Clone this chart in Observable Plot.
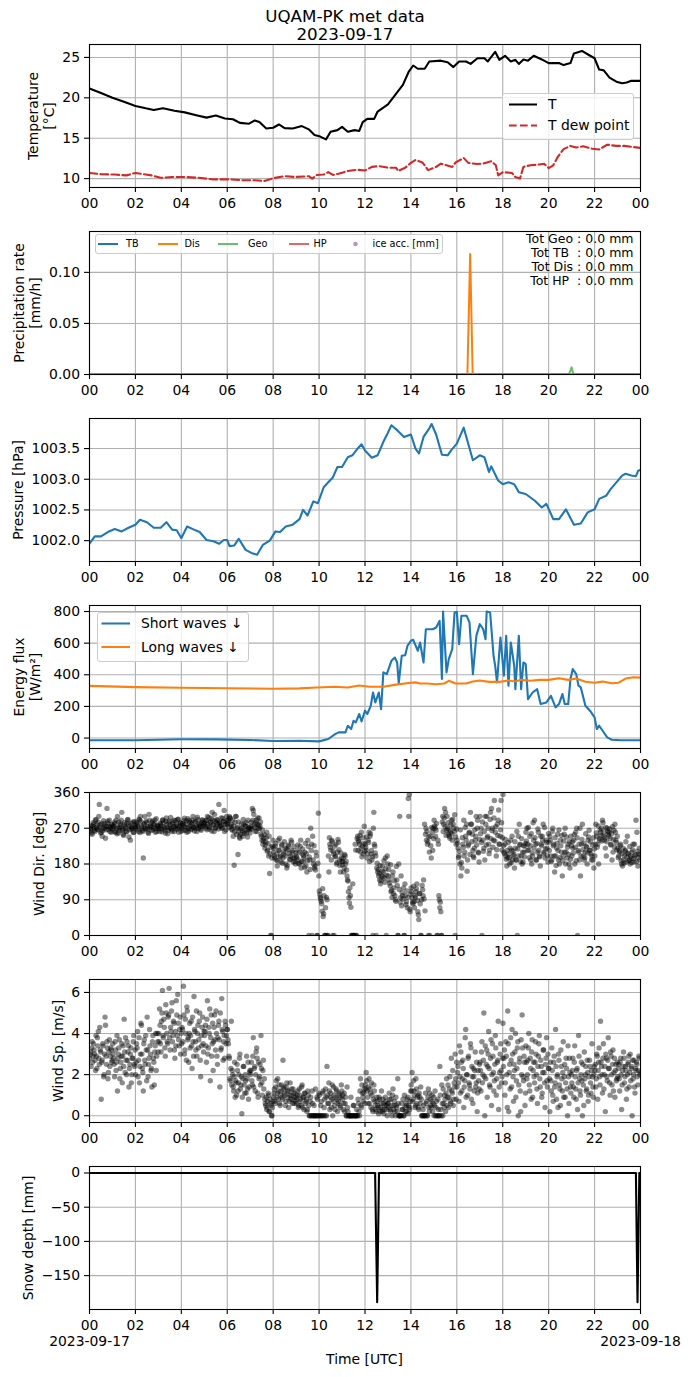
<!DOCTYPE html>
<html><head><meta charset="utf-8">
<script src="https://cdn.jsdelivr.net/npm/d3@7"></script>
<script src="https://cdn.jsdelivr.net/npm/@observablehq/plot@0.6"></script>
<style>
body{margin:0;background:#fff;font-family:"DejaVu Sans",sans-serif;}
#root{position:relative;width:690px;height:1377px;overflow:hidden;background:#fff;}
.abs{position:absolute;white-space:pre;color:#000;}
.legend{position:absolute;background:rgba(255,255,255,0.8);border:1px solid #cccccc;border-radius:3px;box-sizing:border-box;overflow:hidden;}
</style></head><body><div id="root"></div>
<script>
// ---------------- DATA ----------------
const xTickHours = [0,2,4,6,8,10,12,14,16,18,20,22,24];

// Temperature [°C]
const tHours = [0,0.5,1,1.5,2,2.45,2.8,3.2,3.7,4.15,4.65,5.1,5.5,5.9,6.25,6.55,6.95,7.2,7.4,7.7,8.0,8.25,8.5,8.85,9.25,9.55,9.8,10.05,10.3,10.5,10.8,11.0,11.25,11.55,11.75,11.9,12.1,12.4,12.55,12.8,13.0,13.35,13.65,13.9,14.1,14.3,14.6,14.8,15.3,15.6,15.85,16.1,16.4,16.6,16.9,17.2,17.35,17.67,17.85,18.1,18.35,18.55,18.7,18.9,19.1,19.35,19.7,20.0,20.45,20.65,20.95,21.1,21.45,21.75,22.0,22.2,22.4,22.65,22.95,23.2,23.4,23.6,24];
const tVals = [21.15,20.6,20.0,19.5,19.0,18.7,18.5,18.7,18.4,18.2,17.85,17.55,17.8,17.45,17.35,16.9,16.8,17.2,17.0,16.2,16.3,16.7,16.25,16.2,16.5,16.1,15.4,15.2,14.85,15.8,16.0,16.4,15.8,16.0,15.9,17.0,17.4,17.4,18.3,18.8,19.2,20.5,21.6,23.2,24.0,23.6,23.6,24.5,24.6,24.4,23.8,24.5,24.5,24.2,24.9,24.9,24.5,25.7,24.7,25.2,24.5,24.7,24.2,24.75,24.6,25.2,24.75,24.3,24.3,24.05,24.3,25.5,25.8,25.3,24.9,23.5,23.4,22.5,22.0,21.8,21.9,22.1,22.1];
const tdHours = [0,0.5,1.1,1.6,2.0,2.45,2.7,3.1,3.6,4.15,4.75,5.4,6.1,6.65,7.2,7.6,8.0,8.5,8.95,9.55,9.7,9.9,10.2,10.4,10.6,10.85,11.25,11.65,12.0,12.3,12.6,13.0,13.35,13.45,13.75,14.0,14.2,14.5,14.75,15.1,15.3,15.55,15.8,15.95,16.3,16.5,16.9,17.2,17.5,17.7,17.8,18.0,18.4,18.55,18.75,18.9,19.2,19.6,19.8,20.0,20.2,20.4,20.65,20.95,21.2,21.5,21.9,22.2,22.55,22.95,23.3,23.7,24];
const tdVals = [10.7,10.55,10.5,10.4,10.7,10.5,10.4,10.1,10.2,10.2,10.1,9.9,9.9,9.8,9.8,9.7,10.05,10.3,10.2,10.3,10.0,10.45,10.5,10.8,10.45,10.6,10.95,11.1,11.0,11.45,11.55,11.35,11.35,10.95,11.35,11.95,12.3,12.0,11.05,11.45,11.85,11.65,11.45,12.0,12.55,11.95,11.8,11.9,12.15,11.65,10.4,10.8,10.7,10.2,10.0,11.45,11.65,11.75,11.85,11.3,11.65,12.7,13.65,14.05,13.85,14.0,13.7,13.6,14.2,14.05,14.05,13.9,13.8];

// Precipitation rate [mm/h]
const tbHours = [0,24], tbVals = [0,0];
const hpHours = [0,24], hpVals = [0,0];
const geoHours = [0,20.88,21.0,21.08,24], geoVals = [0,0,0.007,0,0];
const disHours = [0,16.46,16.58,16.69,24], disVals = [0,0,0.118,0,0];
const precipTotals = ["Tot Geo : 0.0 mm","Tot TB  : 0.0 mm","Tot Dis : 0.0 mm","Tot HP  : 0.0 mm"];

// Pressure [hPa]
const pHours = [0,0.23,0.5,0.8,1.1,1.4,1.7,2.0,2.2,2.5,2.8,3.1,3.35,3.6,3.8,4.0,4.25,4.55,4.8,5.1,5.4,5.65,5.85,6.0,6.1,6.3,6.5,6.8,7.05,7.3,7.55,7.85,8.1,8.3,8.55,8.85,9.15,9.3,9.5,9.75,9.95,10.2,10.4,10.6,10.8,11.0,11.25,11.45,11.7,11.85,12.0,12.3,12.55,12.8,12.95,13.15,13.4,13.7,14.0,14.2,14.35,14.55,14.8,14.9,15.1,15.35,15.6,15.75,16.0,16.3,16.7,17.0,17.2,17.4,17.5,17.8,18.0,18.25,18.5,18.7,19.0,19.4,19.7,19.9,20.2,20.45,20.75,21.1,21.4,21.7,22.0,22.2,22.5,22.7,22.95,23.2,23.35,23.6,23.8,23.9,24];
const pVals = [1001.95,1002.07,1002.07,1002.14,1002.19,1002.15,1002.21,1002.26,1002.34,1002.30,1002.21,1002.21,1002.30,1002.18,1002.17,1002.04,1002.23,1002.18,1002.14,1002.01,1001.99,1001.95,1002.01,1002.01,1001.91,1001.92,1002.03,1001.85,1001.80,1001.77,1001.93,1002.0,1002.15,1002.14,1002.23,1002.26,1002.35,1002.5,1002.41,1002.64,1002.61,1002.87,1002.95,1003.03,1003.2,1003.2,1003.36,1003.39,1003.51,1003.57,1003.47,1003.35,1003.39,1003.61,1003.72,1003.88,1003.8,1003.69,1003.73,1003.5,1003.42,1003.69,1003.83,1003.9,1003.73,1003.4,1003.39,1003.47,1003.58,1003.84,1003.31,1003.39,1003.36,1003.12,1003.21,1002.98,1002.92,1002.95,1002.92,1002.79,1002.76,1002.65,1002.54,1002.6,1002.35,1002.35,1002.51,1002.26,1002.28,1002.46,1002.51,1002.68,1002.73,1002.84,1002.95,1003.06,1003.09,1003.06,1003.05,1003.14,1003.15];

// Energy flux [W/m2]
const lwHours = [0,2,4,6,8,9.15,9.9,10.7,11.25,11.75,12.2,12.8,13.35,13.9,14.2,14.4,14.7,15.1,15.45,15.65,15.95,16.4,16.7,17.0,17.4,17.85,18.25,18.55,18.8,19.2,19.6,20.0,20.45,20.85,21.2,21.6,22.0,22.35,22.75,23.05,23.35,23.7,24];
const lwVals = [330,322,318,315,312,314,320,324,320,332,324,324,338,348,352,345,345,340,345,362,345,345,358,364,355,355,364,358,368,362,368,368,378,368,376,356,350,357,346,350,376,384,382];
const swHours = [0,2,4,5.5,7,8,9.15,10.0,10.4,10.7,10.85,11.15,11.25,11.4,11.5,11.6,11.75,11.85,12.0,12.1,12.25,12.35,12.45,12.6,12.7,12.8,12.95,13.15,13.3,13.4,13.47,13.6,13.75,13.85,14.0,14.1,14.3,14.4,14.55,14.65,14.95,15.1,15.25,15.35,15.4,15.55,15.65,15.8,15.9,16.0,16.1,16.2,16.43,16.55,16.7,16.85,17.0,17.15,17.25,17.3,17.45,17.6,17.67,17.75,17.9,18.05,18.15,18.25,18.35,18.5,18.55,18.7,18.8,18.9,19.0,19.1,19.3,19.5,19.65,19.9,20.1,20.3,20.45,20.6,20.7,20.85,20.95,21.05,21.2,21.3,21.4,21.6,21.8,22.0,22.1,22.2,22.35,22.55,22.75,23.15,24];
const swVals = [-14,-14,-8,-8,-12,-19,-17,-21,-6,25,36,36,78,57,109,99,152,105,173,152,204,288,225,288,183,415,404,488,509,478,347,520,524,583,615,621,552,604,478,688,688,699,741,373,800,415,499,562,794,798,594,773,773,731,404,646,720,688,625,800,794,520,457,352,636,394,646,331,604,457,309,646,309,478,467,246,288,309,215,225,267,194,215,278,215,215,373,436,404,331,320,204,173,131,57,78,46,4,-11,-14,-14];

// Wind direction [deg]: two interleaved sample sets, 24 values each per hour (hour 0 .. 23)
const windDirA = [
 [262,270,258,275,280,265,290,272,268,285,330,278,260,250,270,282,276,266,320,288,274,262,270,280],
 [268,275,285,260,270,300,258,272,280,290,265,255,278,270,262,283,292,248,275,268,270,285,260,272],
 [270,285,278,262,290,300,275,265,195,282,270,288,268,260,305,276,272,284,266,279,291,270,262,275],
 [275,262,280,268,290,284,270,258,296,272,265,288,278,270,262,285,290,274,268,280,292,260,275,283],
 [270,282,278,295,265,288,272,262,290,276,284,268,300,274,286,270,262,292,280,276,268,284,290,275],
 [282,270,290,300,275,268,285,295,310,278,262,288,272,292,280,330,284,276,270,295,288,262,280,300],
 [280,290,300,295,275,265,250,177,285,300,270,204,260,245,255,270,250,280,262,275,258,248,270,266],
 [270,285,320,315,278,262,290,280,270,296,275,255,240,230,245,220,235,260,215,200,156,0,0,225],
 [210,200,225,190,175,240,215,200,185,230,195,205,220,180,170,215,225,190,200,235,210,185,195,180],
 [200,215,190,180,225,170,205,185,195,210,175,160,240,0,190,270,230,250,180,170,165,200,0,308],
 [112,96,86,61,48,100,0,0,90,0,160,230,215,240,0,205,225,200,180,210,235,190,160,195],
 [178,195,170,200,187,150,137,95,120,71,0,130,0,0,215,0,250,240,230,210,260,225,205,275],
 [230,215,195,240,260,250,205,190,0,310,225,200,170,160,150,140,130,150,175,160,145,195,0,200],
 [150,140,125,110,96,160,120,100,86,140,0,180,300,95,75,100,120,0,100,85,70,345,355,60],
 [120,95,80,85,100,110,130,60,40,105,0,90,115,140,280,255,240,230,0,210,250,195,260,270],
 [290,270,265,0,240,100,70,60,0,300,280,320,310,265,270,255,250,260,290,240,280,262,0,230],
 [240,220,200,180,150,170,230,290,210,250,280,190,230,260,310,280,255,200,220,240,300,270,210,185],
 [300,270,0,240,220,190,280,300,250,230,215,310,320,270,240,340,260,200,280,290,230,250,340,215],
 [355,210,230,200,175,195,205,180,240,215,190,200,170,220,190,0,250,280,230,200,180,185,210,225],
 [260,270,230,215,250,190,180,200,240,290,230,190,210,260,200,175,230,250,280,210,195,240,220,185],
 [235,250,200,190,270,230,160,200,220,255,190,180,240,210,150,200,255,270,210,195,230,180,170,250],
 [200,220,240,180,260,270,0,210,190,150,230,280,200,190,210,225,180,240,265,215,205,200,190,170],
 [200,280,250,230,180,240,260,270,290,250,240,220,200,270,255,260,245,230,190,210,265,280,240,215],
 [220,200,210,230,180,175,190,200,215,185,250,205,190,180,195,210,230,185,200,290,260,175,205,190]
];
const windDirB = [
 [268,276,255,284,270,262,292,279,266,300,272,258,281,264,289,270,245,275,283,267,290,273,260,278],
 [274,262,281,290,256,270,286,265,277,310,268,252,284,273,261,291,278,266,240,282,271,259,287,276],
 [281,266,274,293,259,287,270,262,279,300,268,284,273,257,290,276,265,288,271,282,260,294,277,269],
 [269,283,276,261,291,273,265,288,279,256,284,270,297,266,281,274,262,289,276,268,293,271,284,262],
 [277,265,289,273,281,260,294,270,285,266,279,290,272,263,288,276,298,269,281,274,265,291,278,284],
 [276,289,266,281,297,272,285,263,291,278,305,270,284,290,268,282,276,296,271,287,315,279,266,290],
 [285,272,296,280,268,290,276,262,300,255,272,286,248,268,281,264,292,257,276,284,266,290,272,258],
 [276,268,290,305,272,284,262,296,278,270,286,250,266,238,254,228,246,212,232,250,205,222,195,240],
 [220,195,232,205,188,214,245,198,226,182,210,236,200,218,176,228,206,192,240,214,196,224,186,208],
 [196,228,182,210,240,186,218,200,172,232,206,188,224,198,166,214,0,190,226,175,210,0,182,150],
 [104,92,80,118,55,0,70,96,0,200,246,222,190,236,212,0,198,230,184,242,216,176,208,186],
 [186,160,204,180,165,140,110,82,100,0,0,0,0,230,0,244,214,236,252,220,198,246,232,212],
 [222,248,206,234,186,256,214,198,270,230,208,0,182,166,156,176,138,162,148,188,134,168,152,180],
 [166,132,178,114,150,106,138,90,174,126,0,116,84,150,108,92,0,130,78,112,96,300,66,104],
 [110,84,124,70,96,118,88,52,106,80,0,126,100,92,62,270,262,236,248,0,226,272,214,244],
 [276,250,282,0,230,90,84,0,286,262,296,274,252,300,284,266,245,278,256,292,270,304,248,268],
 [232,196,212,266,184,246,222,200,272,240,162,226,258,204,280,236,214,196,266,250,228,290,208,242],
 [256,234,286,212,262,300,228,246,270,206,292,244,264,222,296,238,274,216,252,316,230,266,284,246],
 [226,206,242,192,214,234,196,220,184,250,212,204,236,190,262,218,200,228,186,244,210,226,198,232],
 [238,214,272,196,226,256,208,284,220,246,190,232,268,214,198,250,226,240,206,272,218,234,200,256],
 [214,240,186,262,226,200,246,176,232,214,266,196,226,252,188,238,210,180,248,222,204,236,192,226],
 [236,208,254,222,188,246,214,230,270,200,242,216,232,196,256,222,208,248,214,236,190,228,246,218],
 [230,258,222,276,244,266,252,238,284,260,246,272,236,262,250,268,228,256,274,242,222,260,234,250],
 [196,214,226,188,206,220,182,212,236,198,208,188,224,200,184,216,194,230,204,186,212,196,220,204]
];

// Wind speed [m/s]: two interleaved sample sets, 24 values each per hour
const windSpA = [
 [2.8,3.1,3.3,2.6,3.5,3.0,2.2,2.9,3.8,4.1,2.5,3.2,0.8,2.7,3.4,2.0,4.8,2.9,3.6,1.8,3.1,2.4,3.3,2.6],
 [3.5,2.8,1.9,3.2,2.6,1.2,3.0,3.7,2.3,2.9,1.6,3.4,4.7,2.1,2.7,3.6,3.1,1.4,2.5,3.3,2.0,2.8,3.9,2.4],
 [2.0,3.5,4.1,2.7,1.6,3.0,4.4,2.3,1.2,3.7,2.5,3.2,4.8,1.9,2.8,3.4,2.2,1.4,3.9,2.6,3.1,4.0,2.9,3.6],
 [4.0,5.2,3.5,4.6,6.1,3.8,4.3,2.9,5.0,3.6,4.8,6.2,3.2,4.1,5.5,3.9,4.5,2.8,3.4,4.9,5.9,3.7,4.2,3.0],
 [3.5,4.2,6.3,3.0,4.7,2.7,5.1,3.8,4.0,3.3,4.6,2.3,3.6,5.8,4.1,3.2,2.9,4.4,3.7,5.0,1.9,3.4,4.8,3.1],
 [3.9,4.4,2.6,5.6,3.3,4.0,1.7,4.9,3.5,2.2,4.3,3.7,5.1,2.9,3.8,4.6,1.4,3.2,5.7,4.1,3.6,2.8,4.4,3.9],
 [4.2,3.5,2.8,1.7,4.6,2.2,1.4,1.9,0.9,1.6,2.5,1.2,2.0,3.0,1.5,0.1,1.8,2.4,1.1,1.7,2.9,1.3,0.8,2.1],
 [2.0,2.6,1.5,3.8,2.3,1.2,3.1,2.8,0.9,1.8,2.5,3.9,1.6,2.2,1.3,0.8,0.5,0.3,0.7,1.0,0.2,0.6,0.0,0.4],
 [0.9,1.3,0.6,1.7,1.1,0.8,1.5,0.5,1.2,0.9,2.7,1.4,1.0,0.7,1.6,1.2,0.4,1.0,0.8,1.3,0.6,1.1,0.9,0.7],
 [0.6,1.0,0.4,1.3,0.8,0.5,1.5,0.9,0.3,1.1,0.7,0.2,1.2,0.5,0.0,0.9,0.0,0.6,0.0,0.0,1.3,0.0,0.8,0.0],
 [1.0,0.0,0.7,0.0,1.2,0.4,0.0,0.9,2.4,0.6,1.6,0.3,1.1,0.8,0.0,1.4,0.5,0.9,1.2,0.2,0.7,1.0,0.4,1.5],
 [0.8,0.3,1.1,0.6,0.0,1.4,0.2,0.0,0.0,0.9,0.0,0.0,0.5,0.0,0.0,0.3,0.0,0.6,0.0,1.8,0.4,1.1,0.7,1.3],
 [1.5,2.1,1.2,0.6,1.8,1.3,0.4,1.0,0.2,1.5,0.7,0.3,0.9,0.5,0.1,0.8,0.4,1.2,0.2,0.6,0.3,0.9,0.5,0.0],
 [0.6,1.1,0.3,0.8,0.0,1.3,0.5,0.2,0.9,0.4,1.8,0.0,0.0,0.0,0.6,0.3,0.0,1.0,0.2,0.5,0.8,0.1,0.4,0.7],
 [1.5,2.1,0.8,1.2,0.4,1.8,0.6,1.0,0.3,0.9,1.4,0.0,0.0,0.5,0.0,1.1,0.7,0.0,1.3,0.2,0.8,0.4,1.0,0.6],
 [0.0,1.2,0.4,0.0,0.8,0.0,2.4,0.3,1.5,0.0,0.6,1.0,0.2,1.8,0.9,0.4,1.3,0.7,2.8,1.1,0.5,1.6,3.0,0.8],
 [1.4,2.4,0.7,1.9,3.1,1.2,2.7,0.4,1.7,4.2,2.0,1.0,2.9,1.5,3.5,0.8,1.9,2.3,1.2,3.1,1.6,0.2,2.2,1.3],
 [2.6,1.2,3.6,2.0,5.0,0.0,1.8,3.2,2.4,4.1,1.5,2.8,0.5,3.5,2.1,1.7,3.9,1.0,2.6,4.6,1.4,3.0,2.2,1.9],
 [4.5,2.8,1.0,3.6,2.0,5.1,0.2,2.5,3.8,1.4,3.0,0.7,2.2,4.0,1.7,3.3,0.0,2.6,1.2,3.7,4.9,1.9,2.9,0.5],
 [3.4,1.8,2.7,4.0,1.2,2.3,3.1,0.9,2.6,1.6,3.6,2.0,0.6,2.9,3.9,1.4,2.4,1.1,3.2,2.1,0.4,2.8,1.7,3.0],
 [2.3,0.2,1.7,3.3,1.0,2.6,1.4,4.2,0.8,2.0,3.0,1.5,0.5,2.4,1.2,3.6,1.9,0.9,2.8,1.3,3.4,0.6,2.1,1.1],
 [1.6,2.8,0.9,3.4,1.3,2.2,0.3,3.9,1.8,1.0,2.6,0.0,1.5,3.1,2.0,1.2,2.7,0.7,1.9,2.4,1.1,3.5,1.4,2.0],
 [2.2,1.4,3.0,0.8,2.6,1.9,4.6,2.4,1.1,3.5,2.0,0.2,2.8,1.7,3.8,2.3,1.0,2.9,1.5,3.2,2.1,0.9,2.5,1.8],
 [1.9,2.5,1.2,2.8,0.3,2.2,3.1,1.6,2.4,0.8,2.0,2.6,1.4,3.0,2.3,0.0,1.8,2.7,1.1,2.2,2.5,1.5,2.9,2.0]
];
const windSpB = [
 [3.0,2.4,3.6,2.9,3.2,2.7,3.9,2.3,3.4,2.8,4.3,3.1,2.6,3.5,1.9,3.0,4.4,2.5,3.3,2.1,3.7,2.9,3.2,2.7],
 [3.0,2.5,3.6,2.2,3.9,2.8,3.3,1.8,2.6,3.5,2.9,2.4,3.1,3.8,2.0,2.7,3.4,2.3,3.0,1.6,2.8,3.6,2.5,3.2],
 [2.6,3.3,1.9,3.8,2.4,4.5,3.0,2.1,3.5,2.7,3.9,1.7,3.2,2.5,4.2,3.0,2.3,3.6,2.8,1.5,3.4,2.2,4.0,3.1],
 [3.6,4.4,3.1,5.0,3.9,4.7,3.3,5.4,4.0,3.5,4.9,3.8,4.3,5.1,3.6,4.6,3.2,4.1,5.6,3.9,4.5,3.4,4.8,4.0],
 [4.3,3.6,4.9,3.2,4.0,5.3,3.7,2.6,4.5,3.9,3.4,4.8,2.9,4.2,3.6,5.1,4.0,3.3,4.6,2.7,3.9,4.3,3.5,4.1],
 [4.1,3.4,4.7,3.0,4.3,5.2,3.8,2.9,4.5,3.6,4.9,3.2,4.0,2.5,4.4,3.7,5.0,3.3,4.2,2.7,3.9,4.6,3.5,4.2],
 [3.7,2.9,1.8,2.3,1.5,2.0,1.2,2.6,1.7,1.0,2.2,1.6,2.8,1.3,1.9,0.9,2.4,1.5,2.0,1.1,1.8,2.6,1.4,2.2],
 [2.2,1.7,2.9,1.4,2.4,2.0,3.3,1.1,2.6,1.9,1.5,2.3,1.0,2.7,1.8,0.6,0.9,0.4,1.1,0.2,0.8,0.5,0.0,0.7],
 [1.1,0.7,1.4,0.9,1.8,1.2,0.6,1.0,1.5,0.8,1.3,1.1,0.5,1.4,0.9,1.2,0.7,1.6,1.0,0.8,1.3,0.6,1.1,0.9],
 [0.8,1.2,0.5,1.0,0.7,1.4,0.4,0.9,1.1,0.6,0.8,0.3,1.0,0.0,0.7,0.0,1.2,0.0,0.5,0.0,0.0,0.9,0.0,1.1],
 [0.0,0.5,0.0,1.1,0.0,0.8,1.3,0.0,1.0,0.6,1.2,0.9,0.4,1.5,0.7,1.0,0.3,1.3,0.8,0.6,1.1,0.5,0.9,1.2],
 [1.0,0.6,0.2,0.9,0.0,0.4,0.0,0.0,0.0,0.0,0.0,0.5,0.0,0.0,0.0,0.0,0.8,0.2,1.2,0.5,1.5,0.9,1.1,0.6],
 [1.3,1.7,0.9,1.4,0.6,1.1,1.6,0.3,0.8,1.2,0.5,0.2,0.7,0.4,0.9,0.2,0.6,0.3,0.8,0.1,0.5,0.7,0.3,0.6],
 [0.4,0.8,0.2,0.5,1.0,0.3,0.7,0.0,0.5,0.2,0.6,0.0,0.0,0.0,0.3,0.8,0.0,0.4,0.6,0.2,0.9,0.5,0.3,1.2],
 [1.2,0.7,1.7,1.0,0.5,1.3,0.9,0.4,1.1,0.6,0.8,0.0,0.3,0.0,0.0,0.6,0.0,0.9,0.4,1.1,0.5,0.7,0.2,0.9],
 [0.5,0.0,0.7,0.0,0.3,0.0,1.0,0.0,0.6,1.3,0.4,0.8,1.1,0.5,1.5,0.9,1.9,0.6,1.2,2.2,0.8,1.4,1.8,2.6],
 [2.1,1.6,3.4,1.1,2.6,1.8,2.3,1.4,3.8,0.9,2.0,2.8,1.6,1.3,3.3,2.4,0.6,1.9,2.2,1.4,2.6,1.1,1.7,2.5],
 [2.2,3.1,1.6,2.7,1.9,3.4,2.5,0.9,3.0,2.3,1.4,3.7,2.0,2.9,1.2,2.5,3.3,1.8,2.7,0.3,2.1,3.5,1.6,2.8],
 [2.4,3.2,1.6,2.9,0.4,3.5,2.1,1.3,2.7,4.2,1.9,2.5,3.1,0.9,2.3,3.6,1.5,2.8,0.2,2.0,3.3,1.7,2.6,1.1],
 [2.6,2.0,3.3,1.5,2.8,0.8,3.7,2.2,1.9,2.6,3.0,1.3,2.4,3.5,1.8,2.7,0.9,2.1,3.2,1.6,2.5,3.8,1.4,2.3],
 [1.8,2.6,1.2,2.2,0.7,2.9,1.6,2.4,1.9,0.4,2.7,1.3,3.2,1.8,2.1,0.9,2.5,1.6,2.3,0.0,1.9,2.8,1.4,2.0],
 [2.2,1.4,2.6,1.9,0.8,2.3,1.6,2.9,1.2,2.0,1.7,2.5,0.5,1.8,2.4,1.3,2.1,1.0,2.7,1.6,2.2,1.9,0.9,2.4],
 [2.5,1.8,2.9,2.2,3.3,1.5,2.6,2.0,2.8,1.3,2.4,3.0,1.9,2.7,2.3,1.6,3.1,2.0,2.5,1.2,2.8,2.2,1.7,2.6],
 [2.3,1.8,2.6,2.0,1.5,2.4,2.8,1.9,2.2,1.3,2.5,2.9,2.1,1.7,2.4,2.7,2.0,1.4,2.3,2.6,1.9,2.2,2.8,2.1]
];

// Snow depth [mm]
const snowHours = [0,12.44,12.53,12.61,23.80,23.87,23.95,24];
const snowVals = [0,0,-189,0,0,-189,0,0];

// ---------------- BUILD ----------------
const root = document.getElementById("root");
const FONT = "DejaVu Sans";
const FS = 13.9;
const GRID = "#b0b0b0";
const toRows = (hs, vs) => hs.map((h, i) => ({h, v: vs[i]}));
// interleave two per-hour sample sets, evenly spaced in time within each hour
const hourly2 = (A, B) => A.flatMap((va, hr) => {
  const vb = B[hr];
  const vals = va.flatMap((v, i) => [v, vb[i]]);
  return vals.map((v, i) => ({h: hr + (i + 0.5) / vals.length, v}));
});
const hourFmt = h => String(h % 24).padStart(2, "0");

function addDiv(html, style) {
  const d = document.createElement("div");
  d.className = "abs";
  d.innerHTML = html;
  Object.assign(d.style, style);
  root.appendChild(d);
  return d;
}

// title
addDiv("UQAM-PK met data<br>2023-09-17", {left:"0px", top:"6.5px", width:"690px", textAlign:"center", fontSize:"16.7px", lineHeight:"18.5px"});

function panel(i, cfg) {
  const plotTop = 44.3 + 186.9 * i;
  const mb = cfg.marginBottom ?? 34;
  const h = 10 + 143 + mb;
  const svg = Plot.plot({
    width: 690, height: h,
    marginLeft: 89, marginRight: 50, marginTop: 10, marginBottom: mb,
    x: {domain: [0, 24], axis: null},
    y: {domain: cfg.yDomain, axis: null},
    style: {fontFamily: FONT, fontSize: FS + "px", background: "transparent", overflow: "visible", color: "black"},
    marks: [
      Plot.gridX(xTickHours, {stroke: GRID, strokeOpacity: 1, strokeWidth: 1.1}),
      Plot.gridY(cfg.yTicks, {stroke: GRID, strokeOpacity: 1, strokeWidth: 1.1}),
      ...cfg.marks,
      Plot.frame({stroke: "black", strokeWidth: 1.1}),
      Plot.axisX(xTickHours, {tickSize: 5, tickPadding: 4.5, tickFormat: cfg.xFmt || hourFmt, label: null, fontSize: FS, strokeWidth: 1.1, lineHeight: 1.12}),
      Plot.axisY(cfg.yTicks, {tickSize: 5, tickPadding: 4.5, tickFormat: cfg.yFmt, label: null, fontSize: FS, strokeWidth: 1.1}),
      Plot.text([cfg.ylabel], {frameAnchor: "left", text: d => d, rotate: -90, dx: cfg.labelX - 89, textAnchor: "middle", lineAnchor: "middle", lineHeight: 1.15, fontSize: FS, fill: "black"})
    ]
  });
  svg.style.position = "absolute";
  svg.style.left = "0px";
  svg.style.top = (plotTop - 10) + "px";
  root.appendChild(svg);
}

// 1 Temperature
panel(0, {
  yDomain: [8.9, 26.6], yTicks: [10, 15, 20, 25], yFmt: d => String(d),
  ylabel: "Temperature\n[°C]", labelX: 40,
  marks: [
    Plot.line(toRows(tHours, tVals), {x: "h", y: "v", stroke: "black", strokeWidth: 2.1, clip: true}),
    Plot.line(toRows(tdHours, tdVals), {x: "h", y: "v", stroke: "#d62728", strokeWidth: 2.1, strokeDasharray: "7.7,3.3", clip: true})
  ]
});

// 2 Precipitation
panel(1, {
  yDomain: [0, 0.14], yTicks: [0, 0.05, 0.10], yFmt: d3.format(".2f"),
  ylabel: "Precipitation rate\n[mm/h]", labelX: 26.5,
  marks: [
    Plot.line(toRows(tbHours, tbVals), {x: "h", y: "v", stroke: "#1f77b4", strokeWidth: 2, clip: true}),
    Plot.line(toRows(hpHours, hpVals), {x: "h", y: "v", stroke: "#d62728", strokeOpacity: 0.7, strokeWidth: 2, clip: true}),
    Plot.line(toRows(geoHours, geoVals), {x: "h", y: "v", stroke: "#2ca02c", strokeOpacity: 0.7, strokeWidth: 2, clip: true}),
    Plot.line(toRows(disHours, disVals), {x: "h", y: "v", stroke: "#ff7f0e", strokeWidth: 2, clip: true})
  ]
});

// 3 Pressure
panel(2, {
  yDomain: [1001.66, 1003.99], yTicks: [1002.0, 1002.5, 1003.0, 1003.5], yFmt: d3.format(".1f"),
  ylabel: "Pressure [hPa]", labelX: 17,
  marks: [
    Plot.line(toRows(pHours, pVals), {x: "h", y: "v", stroke: "#1f77b4", strokeWidth: 2.1, clip: true})
  ]
});

// 4 Energy flux
panel(3, {
  yDomain: [-66, 838], yTicks: [0, 200, 400, 600, 800], yFmt: d => String(d),
  ylabel: "Energy flux\n[W/m²]", labelX: 26,
  marks: [
    Plot.line(toRows(swHours, swVals), {x: "h", y: "v", stroke: "#1f77b4", strokeWidth: 2.1, clip: true}),
    Plot.line(toRows(lwHours, lwVals), {x: "h", y: "v", stroke: "#ff7f0e", strokeWidth: 2.1, clip: true})
  ]
});

// 5 Wind direction
panel(4, {
  yDomain: [0, 360], yTicks: [0, 90, 180, 270, 360], yFmt: d => String(d),
  ylabel: "Wind Dir. [deg]", labelX: 38,
  marks: [
    Plot.dot(hourly2(windDirA, windDirB), {x: "h", y: "v", r: 2.7, fill: "black", fillOpacity: 0.45, stroke: "none", clip: true})
  ]
});

// 6 Wind speed
panel(5, {
  yDomain: [-0.33, 6.63], yTicks: [0, 2, 4, 6], yFmt: d => String(d),
  ylabel: "Wind Sp. [m/s]", labelX: 57,
  marks: [
    Plot.dot(hourly2(windSpA, windSpB), {x: "h", y: "v", r: 2.7, fill: "black", fillOpacity: 0.45, stroke: "none", clip: true})
  ]
});

// 7 Snow depth
panel(6, {
  yDomain: [-199.5, 9.5], yTicks: [-150, -100, -50, 0], yFmt: d => d < 0 ? "\u2212" + Math.abs(d) : String(d),
  ylabel: "Snow depth [mm]", labelX: 27.5,
  marginBottom: 60,
  xFmt: h => h === 0 ? "00\n2023-09-17" : h === 24 ? "00\n2023-09-18" : hourFmt(h),
  marks: [
    Plot.line(toRows(snowHours, snowVals), {x: "h", y: "v", stroke: "black", strokeWidth: 2.1, clip: true})
  ]
});

addDiv("Time [UTC]", {left:"264.5px", width:"200px", textAlign:"center", top:"1350px", fontSize:FS+"px", lineHeight:"18px"});

// ---------------- LEGENDS / ANNOTATIONS ----------------
const NS = "http://www.w3.org/2000/svg";
function legendBox(left, top, w, h, items, fontSize) {
  const d = document.createElement("div");
  d.className = "legend";
  Object.assign(d.style, {left: left + "px", top: top + "px", width: w + "px", height: h + "px"});
  const s = document.createElementNS(NS, "svg");
  s.setAttribute("width", w); s.setAttribute("height", h);
  s.style.position = "absolute"; s.style.left = "-1px"; s.style.top = "-1px";
  for (const it of items) {
    if (it.dot) {
      const c = document.createElementNS(NS, "circle");
      c.setAttribute("cx", it.x1); c.setAttribute("cy", it.y); c.setAttribute("r", 2.3);
      c.setAttribute("fill", it.color); c.setAttribute("fill-opacity", it.opacity ?? 1);
      s.appendChild(c);
    } else {
      const l = document.createElementNS(NS, "line");
      l.setAttribute("x1", it.x1); l.setAttribute("x2", it.x2);
      l.setAttribute("y1", it.y); l.setAttribute("y2", it.y);
      l.setAttribute("stroke", it.color); l.setAttribute("stroke-width", it.sw || 2.1);
      l.setAttribute("stroke-opacity", it.opacity ?? 1);
      if (it.dash) l.setAttribute("stroke-dasharray", it.dash);
      s.appendChild(l);
    }
    const t = document.createElementNS(NS, "text");
    t.setAttribute("x", it.tx); t.setAttribute("y", it.y);
    t.setAttribute("dy", "0.35em");
    t.setAttribute("font-family", FONT); t.setAttribute("font-size", fontSize);
    t.textContent = it.label;
    s.appendChild(t);
  }
  d.appendChild(s);
  root.appendChild(d);
}

// Temperature legend
legendBox(502, 93, 131.5, 46.5, [
  {x1: 7, x2: 35, y: 11.5, color: "black", tx: 46, label: "T"},
  {x1: 7, x2: 35, y: 32.5, color: "#d62728", dash: "7.7,3.3", tx: 46, label: "T dew point"}
], FS);

// Precip legend
legendBox(94.7, 234, 348, 20.3, [
  {x1: 3, x2: 23, y: 10, color: "#1f77b4", sw: 2, tx: 31, label: "TB"},
  {x1: 63, x2: 83, y: 10, color: "#ff7f0e", sw: 2, tx: 89.5, label: "Dis"},
  {x1: 123, x2: 143, y: 10, color: "#2ca02c", opacity: 0.7, sw: 2, tx: 153, label: "Geo"},
  {x1: 194, x2: 214, y: 10, color: "#d62728", opacity: 0.7, sw: 2, tx: 218.5, label: "HP"},
  {dot: true, x1: 260.5, y: 10, color: "#9467bd", opacity: 0.7, tx: 277.5, label: "ice acc. [mm]"}
], 9.7);

// Precip totals
addDiv(precipTotals.join("\n"), {right: (690 - 633.5) + "px", top: "231.5px", textAlign: "right", fontSize: "12.5px", lineHeight: "14px", fontFamily: FONT});

// Energy legend
legendBox(97, 612, 152, 49.7, [
  {x1: 4.5, x2: 33, y: 11.5, color: "#1f77b4", tx: 44, label: "Short waves \u2193"},
  {x1: 4.5, x2: 33, y: 35, color: "#ff7f0e", tx: 44, label: "Long waves \u2193"}
], FS);
</script></body></html>
